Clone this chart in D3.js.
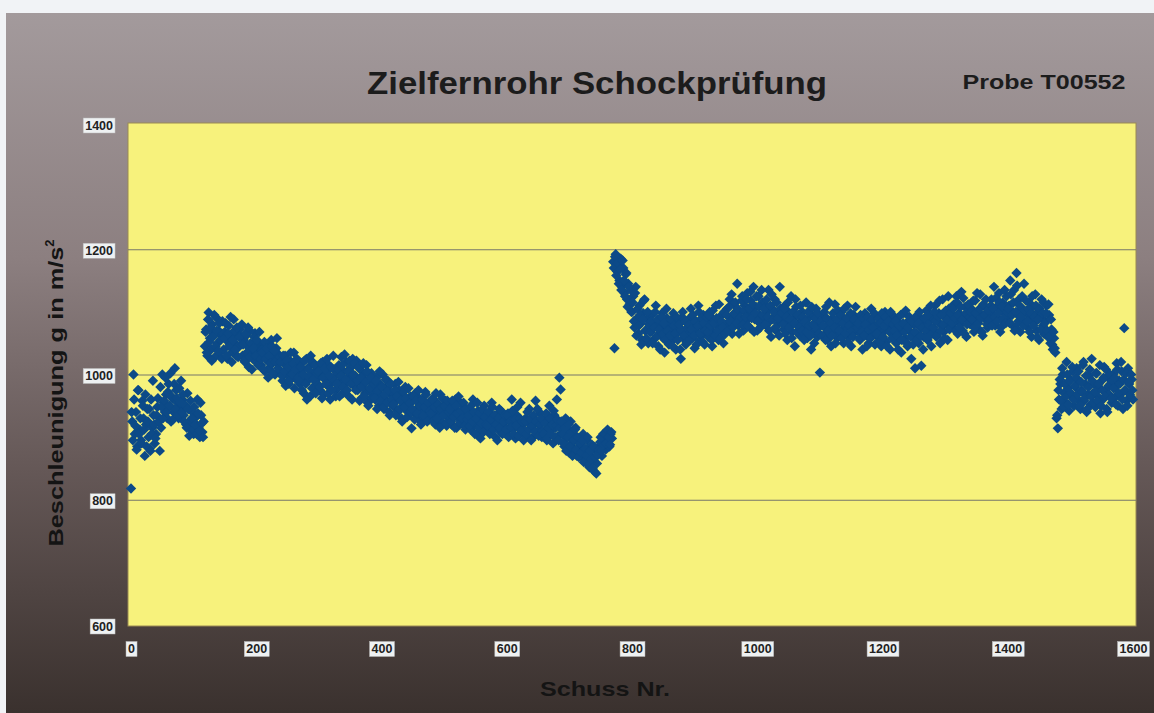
<!DOCTYPE html>
<html><head><meta charset="utf-8">
<script src="https://cdn.jsdelivr.net/npm/d3@7"></script>
<style>
html,body{margin:0;padding:0;background:#f1f3f6;}
svg{display:block;}
</style></head>
<body>
<svg id="c" width="1154" height="713"></svg>
<script>
// ---- data (Schuss Nr., Beschleunigung values; even and odd shots) ----
const title = "Zielfernrohr Schockprüfung";
const sampleLabel = "Probe T00552";
const xLabel = "Schuss Nr.";
const yLabelMain = "Beschleunigung g in m/s";
const xTicks = [0, 200, 400, 600, 800, 1000, 1200, 1400, 1600];
const yTicks = [600, 800, 1000, 1200, 1400];
const shotStep = 2;

// even shots
const seg1Start = 0;
const seg1 = [818,925,1000,905,940,885,975,912,895,958,
930,870,920,945,900,882,960,915,935,890,
905,948,925,878,915,1000,955,940,968,930,
985,950,925,962,940,1010,975,955,930,945,
990,960,935,950,920,970,945,925,912,940,
905,930,920,960,915,900,935,908,925];

const seg2Start = 118;
const seg2 = [1045,1072,1030,1099,1058,1040,1080,1065,1028,1091,1050,1070,1035,1062,1085,
1040,1068,1055,1025,1078,1048,1062,1036,1088,1050,1030,1066,1044,1072,1058,
1030,1055,1020,1062,1045,1012,1070,1038,1025,1050,1066,1032,1018,1048,1040,
1015,1040,1030,1005,1048,1022,1010,1035,1055,1018,1028,1000,1042,1020,1032,
1005,1025,990,1018,1030,1000,1012,985,1022,1008,995,1035,1015,992,1010,
1002,985,1018,1008,970,995,1025,990,1012,965,1000,1020,980,1005,992,
985,1010,975,998,1020,968,992,1005,982,1015,960,995,988,1008,975,
1000,978,1015,990,1028,970,1005,985,1020,995,965,1010,990,1025,982,
998,1022,975,990,1008,962,985,1000,970,1015,955,992,978,1002,968,
980,960,995,972,950,985,965,1000,945,978,958,990,940,968,952,
970,948,985,958,940,975,962,930,968,950,980,942,958,935,965,
914,958,940,970,945,930,962,948,925,955,940,972,935,950,928,
950,932,962,940,920,955,945,935,968,925,948,938,958,918,942,
930,952,920,945,935,960,915,940,928,955,922,938,948,912,935,
925,945,912,938,960,920,932,905,942,925,898,935,918,950,928,
930,910,940,922,955,915,928,900,935,918,945,908,925,938,912,
925,905,938,915,930,960,912,922,898,935,918,928,955,908,920,
910,930,902,925,945,915,898,932,920,958,905,922,912,938,900,
925,905,930,895,918,950,910,925,890,935,915,960,902,995,976,
920,905,885,930,898,912,875,925,890,905,880,915,870,898,885,
890,868,905,875,860,895,882,852,870,888,862,845,878,858,872,
885,900,870,905,892,880,910,895,885,905,898];

const seg3Start = 770;
const seg3 = [1180,1042,1192,1165,1175,1150,1185,1140,1170,1130,1160,1120,1145,1112,1135,
1100,1125,1075,1140,1090,1065,1110,1082,1055,1098,1120,1070,1088,1050,1092,
1068,1095,1055,1080,1110,1062,1045,1085,1072,1098,1058,1035,1078,1090,1065,
1080,1052,1072,1098,1060,1040,1085,1068,1075,1025,1092,1058,1070,1048,1082,
1065,1090,1105,1058,1075,1042,1085,1068,1110,1055,1078,1062,1095,1048,1072,
1085,1060,1100,1072,1045,1088,1065,1110,1078,1055,1092,1070,1082,1050,1098,
1080,1105,1075,1120,1090,1065,1112,1085,1098,1145,1078,1100,1088,1125,1070,
1110,1085,1130,1095,1075,1118,1102,1140,1088,1108,1070,1125,1095,1080,1115,
1090,1112,1078,1100,1135,1085,1060,1105,1092,1120,1070,1098,1082,1140,1088,
1095,1072,1110,1085,1055,1100,1078,1125,1068,1090,1045,1108,1080,1095,1062,
1085,1100,1065,1078,1115,1058,1090,1072,1040,1095,1068,1082,1105,1060,1075,
1003,1080,1095,1062,1075,1108,1055,1085,1070,1045,1090,1068,1112,1078,1058,
1082,1065,1100,1072,1050,1088,1076,1110,1060,1085,1045,1078,1095,1068,1080,
1070,1090,1055,1082,1040,1075,1098,1062,1085,1050,1072,1105,1065,1080,1048,
1078,1060,1092,1070,1045,1085,1068,1100,1052,1075,1088,1040,1072,1095,1062,
1075,1050,1090,1065,1080,1035,1072,1098,1058,1082,1045,1070,1088,1025,1062,
1080,1010,1065,1095,1050,1075,1014,1088,1060,1078,1102,1055,1085,1068,1045,
1090,1072,1110,1060,1085,1098,1050,1078,1120,1068,1092,1080,1055,1105,1088,
1095,1075,1112,1085,1125,1065,1098,1080,1132,1070,1090,1108,1060,1100,1085,
1080,1105,1092,1068,1118,1085,1100,1072,1128,1095,1062,1110,1088,1098,1075,
1100,1085,1120,1095,1140,1078,1108,1090,1130,1068,1102,1115,1085,1098,1125,
1090,1110,1150,1080,1100,1135,1075,1162,1095,1120,1068,1105,1088,1145,1082,
1098,1075,1115,1090,1060,1108,1082,1128,1070,1100,1055,1092,1120,1078,1065,
1085,1110,1060,1095,1050,1072,1040,1058,1035];

const seg4Start = 1478;
const seg4 = [930,914,960,985,945,1000,970,955,1020,978,942,992,965,1005,950,
980,1010,960,990,945,975,1015,958,985,940,968,998,952,1025,970,
985,948,1002,965,978,938,990,960,1012,975,945,995,968,985,955,
1000,962,980,1018,950,990,968,1005,945,1074,975,958,1010,985,965,
992,960];

// odd shots
const seg1bStart = 1;
const seg1b = [940,895,960,918,880,975,905,930,890,950,
912,968,885,925,945,878,905,990,920,898,
935,962,925,980,948,930,958,995,940,972,
950,1002,965,928,985,945,962,935,978,955,
940,968,925,950,915,945,902,958,930,912,
948,920,905,938,910,955,922,900];

const seg2bStart = 119;
const seg2b = [1068,1035,1088,1052,1075,1022,1060,1095,1045,1070,1038,1082,1055,1025,1065,
1058,1082,1030,1065,1045,1092,1020,1055,1070,1040,1075,1028,1060,1048,1080,
1048,1022,1065,1035,1075,1028,1050,1008,1042,1060,1030,1055,1015,1068,1025,
1035,1008,1052,1025,1042,995,1030,1018,1045,1002,1038,1020,1058,1010,1028,
1020,998,1030,1005,982,1022,1012,990,1035,1000,1018,978,1008,1025,995,
990,1012,975,1000,1022,985,960,1008,995,1030,978,992,1015,970,1002,
1005,980,1018,962,995,1010,985,1025,970,998,1012,975,1030,990,965,
985,1008,965,998,1015,980,1032,992,975,1005,1022,985,960,1000,1018,
975,990,1012,958,995,980,1018,965,988,1005,950,978,995,962,985,
962,990,945,975,1005,958,980,948,968,992,955,975,935,985,960,
952,975,935,965,988,945,958,925,972,948,962,932,978,955,940,
945,965,928,958,938,975,950,920,960,935,948,968,925,955,942,
938,960,925,948,970,930,952,915,945,962,935,950,922,958,940,
945,925,958,932,915,950,938,965,922,942,930,955,918,945,928,
935,918,950,925,940,905,930,955,915,938,922,945,908,932,920,
918,940,905,928,948,912,935,920,895,930,915,942,905,925,935,
912,935,900,925,915,942,905,928,918,948,902,930,910,925,895,
925,905,940,912,928,895,918,935,908,925,945,902,920,930,910,
905,922,938,898,915,930,905,920,942,900,918,928,895,915,925,
905,890,915,878,900,920,885,908,870,895,912,880,900,868,890,
875,895,860,882,870,900,855,878,865,850,885,868,842,872,880,
892,878,898,888,905,890,912,900,888,908];

const seg3bStart = 771;
const seg3b = [1170,1188,1158,1178,1145,1168,1135,1182,1150,1125,1162,1108,1140,1118,1100,
1115,1085,1130,1062,1105,1078,1095,1048,1088,1118,1070,1058,1100,1080,1068,
1085,1050,1075,1100,1060,1088,1072,1040,1092,1065,1082,1055,1105,1070,1048,
1062,1088,1045,1078,1065,1092,1055,1080,1040,1070,1100,1062,1085,1052,1075,
1080,1055,1072,1095,1062,1085,1048,1078,1100,1065,1090,1052,1082,1070,1092,
1068,1095,1078,1055,1102,1082,1062,1090,1070,1112,1058,1085,1075,1100,1065,
1095,1070,1108,1085,1128,1075,1098,1115,1082,1105,1065,1092,1118,1080,1102,
1092,1120,1078,1105,1132,1090,1112,1068,1098,1125,1085,1108,1075,1135,1095,
1105,1080,1120,1092,1070,1110,1128,1088,1100,1075,1115,1090,1062,1105,1098,
1080,1105,1065,1092,1115,1075,1088,1058,1100,1082,1120,1068,1095,1075,1110,
1070,1092,1055,1085,1068,1100,1078,1062,1108,1080,1050,1090,1072,1098,1065,
1085,1062,1078,1100,1055,1090,1070,1115,1082,1062,1098,1075,1050,1088,1102,
1070,1095,1058,1082,1105,1065,1090,1052,1078,1098,1070,1060,1088,1108,1075,
1082,1058,1095,1068,1090,1062,1080,1045,1092,1072,1058,1088,1075,1098,1065,
1065,1090,1052,1082,1098,1060,1078,1092,1045,1085,1068,1100,1058,1080,1070,
1085,1062,1040,1078,1095,1055,1082,1068,1102,1050,1075,1092,1060,1085,1048,
1068,1092,1055,1082,1100,1062,1075,1040,1090,1070,1058,1095,1078,1110,1065,
1075,1100,1085,1062,1092,1118,1070,1095,1080,1058,1102,1088,1125,1072,1098,
1082,1105,1090,1070,1115,1095,1075,1108,1088,1122,1065,1098,1080,1112,1092,
1100,1088,1118,1075,1098,1130,1082,1105,1090,1068,1112,1095,1120,1080,1102,
1088,1110,1078,1105,1092,1122,1085,1098,1115,1075,1108,1090,1135,1082,1100,
1105,1082,1128,1095,1115,1070,1100,1142,1085,1110,1092,1125,1078,1102,1118,
1085,1105,1068,1098,1125,1078,1092,1110,1060,1088,1105,1072,1098,1115,1082,
1098,1070,1112,1062,1088,1048,1068,1042];

const seg4bStart = 1479;
const seg4b = [935,975,992,958,1010,948,985,965,1000,952,990,970,1012,960,982,
995,968,1005,950,988,972,1020,962,998,945,980,1008,965,990,955,
972,1002,958,985,1015,950,975,995,965,1008,940,982,1000,962,990,
978,995,952,1008,970,985,1020,960,992,975,1002,950,988,968,1000,
975];

// ---- build point table ----
const points = [];
[[seg1Start, seg1],[seg2Start, seg2],[seg3Start, seg3],[seg4Start, seg4],
 [seg1bStart, seg1b],[seg2bStart, seg2b],[seg3bStart, seg3b],[seg4bStart, seg4b]].forEach(([s, arr]) => {
  arr.forEach((v, i) => points.push({shot: s + i * shotStep, g: v}));
});

// ---- drawing ----
const svg = d3.select("#c");
const W = 1154, H = 713;
const defs = svg.append("defs");
const grad = defs.append("linearGradient").attr("id","bg").attr("x1",0).attr("y1",0).attr("x2",0).attr("y2",1);
[["0%","#a39a9c"],["35%","#8c7f80"],["65%","#655857"],["100%","#3a312e"]].forEach(([o,c]) =>
  grad.append("stop").attr("offset",o).attr("stop-color",c));

svg.append("rect").attr("x",0).attr("y",0).attr("width",W).attr("height",H).attr("fill","#f1f3f6");
svg.append("rect").attr("x",6).attr("y",13).attr("width",W-6).attr("height",H-13).attr("fill","url(#bg)");

const plot = {l:128, r:1136, t:123, b:626};
const x = d3.scaleLinear().domain([0,1600]).range([131,1133]);
const y = d3.scaleLinear().domain([600,1400]).range([625,124]);

svg.append("rect").attr("x",plot.l).attr("y",plot.t).attr("width",plot.r-plot.l).attr("height",plot.b-plot.t)
  .attr("fill","#f7f27c").attr("stroke","#9a8a55").attr("stroke-width",1);

// gridlines
const gridG = svg.append("g")
  .call(d3.axisLeft(y).tickValues(yTicks.filter(t => t > 600 && t < 1400)).tickSize(-(plot.r-plot.l)).tickFormat(""))
  .attr("transform",`translate(${plot.l},0)`);
gridG.select(".domain").remove();
gridG.selectAll("line").attr("stroke","#77776a").attr("stroke-width",1);

// points
svg.append("g").selectAll("path").data(points).join("path")
  .attr("d", d3.symbol().type(d3.symbolSquare).size(54))
  .attr("transform", d => `translate(${x(d.shot)},${y(d.g)}) rotate(45)`)
  .attr("fill","#0c4a88");

// tick labels with boxes
const labelFont = "'Liberation Sans',Arial,sans-serif";
function boxLabel(g, tx, ty, text, anchor){
  const t = g.append("text").attr("x",tx).attr("y",ty).attr("text-anchor",anchor)
    .attr("dominant-baseline","central")
    .attr("font-family",labelFont).attr("font-weight","bold").attr("font-size",12.5)
    .attr("fill","#222").text(text);
  const bb = t.node().getBBox();
  g.insert("rect", "text").attr("x",bb.x-2).attr("y",bb.y-0.5).attr("width",bb.width+4).attr("height",bb.height+1)
    .attr("fill","#eef1f2").attr("stroke","#b8b8b8").attr("stroke-width",0.5);
}
const yAxisG = svg.append("g");
yAxisG.call(d3.axisLeft(y).tickValues(yTicks).tickSize(0).tickFormat(d3.format("d")))
  .attr("transform",`translate(${plot.l},0)`);
yAxisG.select(".domain").remove();
yAxisG.selectAll(".tick").each(function(d){
  const g = d3.select(this);
  g.selectAll("text").remove();
  boxLabel(g, -15, 1, String(d), "end");
});
const xAxisG = svg.append("g");
xAxisG.call(d3.axisBottom(x).tickValues(xTicks).tickSize(0).tickFormat(d3.format("d")))
  .attr("transform",`translate(0,${plot.b})`);
xAxisG.select(".domain").remove();
xAxisG.selectAll(".tick").each(function(d){
  const g = d3.select(this);
  g.selectAll("text").remove();
  boxLabel(g, 0, 23, String(d), "middle");
});

// titles
const tf = "'Liberation Sans',Arial,Helvetica,sans-serif";
svg.append("text").attr("x",597).attr("y",94).attr("text-anchor","middle")
  .attr("font-family",tf).attr("font-weight","bold").attr("font-size",31)
  .attr("textLength",460).attr("lengthAdjust","spacingAndGlyphs")
  .attr("fill","#1c1c1c").text(title);
svg.append("text").attr("x",1044).attr("y",89).attr("text-anchor","middle")
  .attr("font-family",tf).attr("font-weight","bold").attr("font-size",21)
  .attr("textLength",163).attr("lengthAdjust","spacingAndGlyphs")
  .attr("fill","#1c1c1c").text(sampleLabel);
svg.append("text").attr("x",605).attr("y",696).attr("text-anchor","middle")
  .attr("font-family",tf).attr("font-weight","bold").attr("font-size",21)
  .attr("textLength",130).attr("lengthAdjust","spacingAndGlyphs")
  .attr("fill","#141414").text(xLabel);
const yl = svg.append("text").attr("transform","translate(63,393) rotate(-90)").attr("text-anchor","middle")
  .attr("font-family",tf).attr("font-weight","bold").attr("font-size",21).attr("fill","#141414");
yl.append("tspan").attr("textLength",300).attr("lengthAdjust","spacingAndGlyphs").text(yLabelMain);
yl.append("tspan").attr("dy",-9).attr("font-size",13).text("2");
</script>
</body></html>
